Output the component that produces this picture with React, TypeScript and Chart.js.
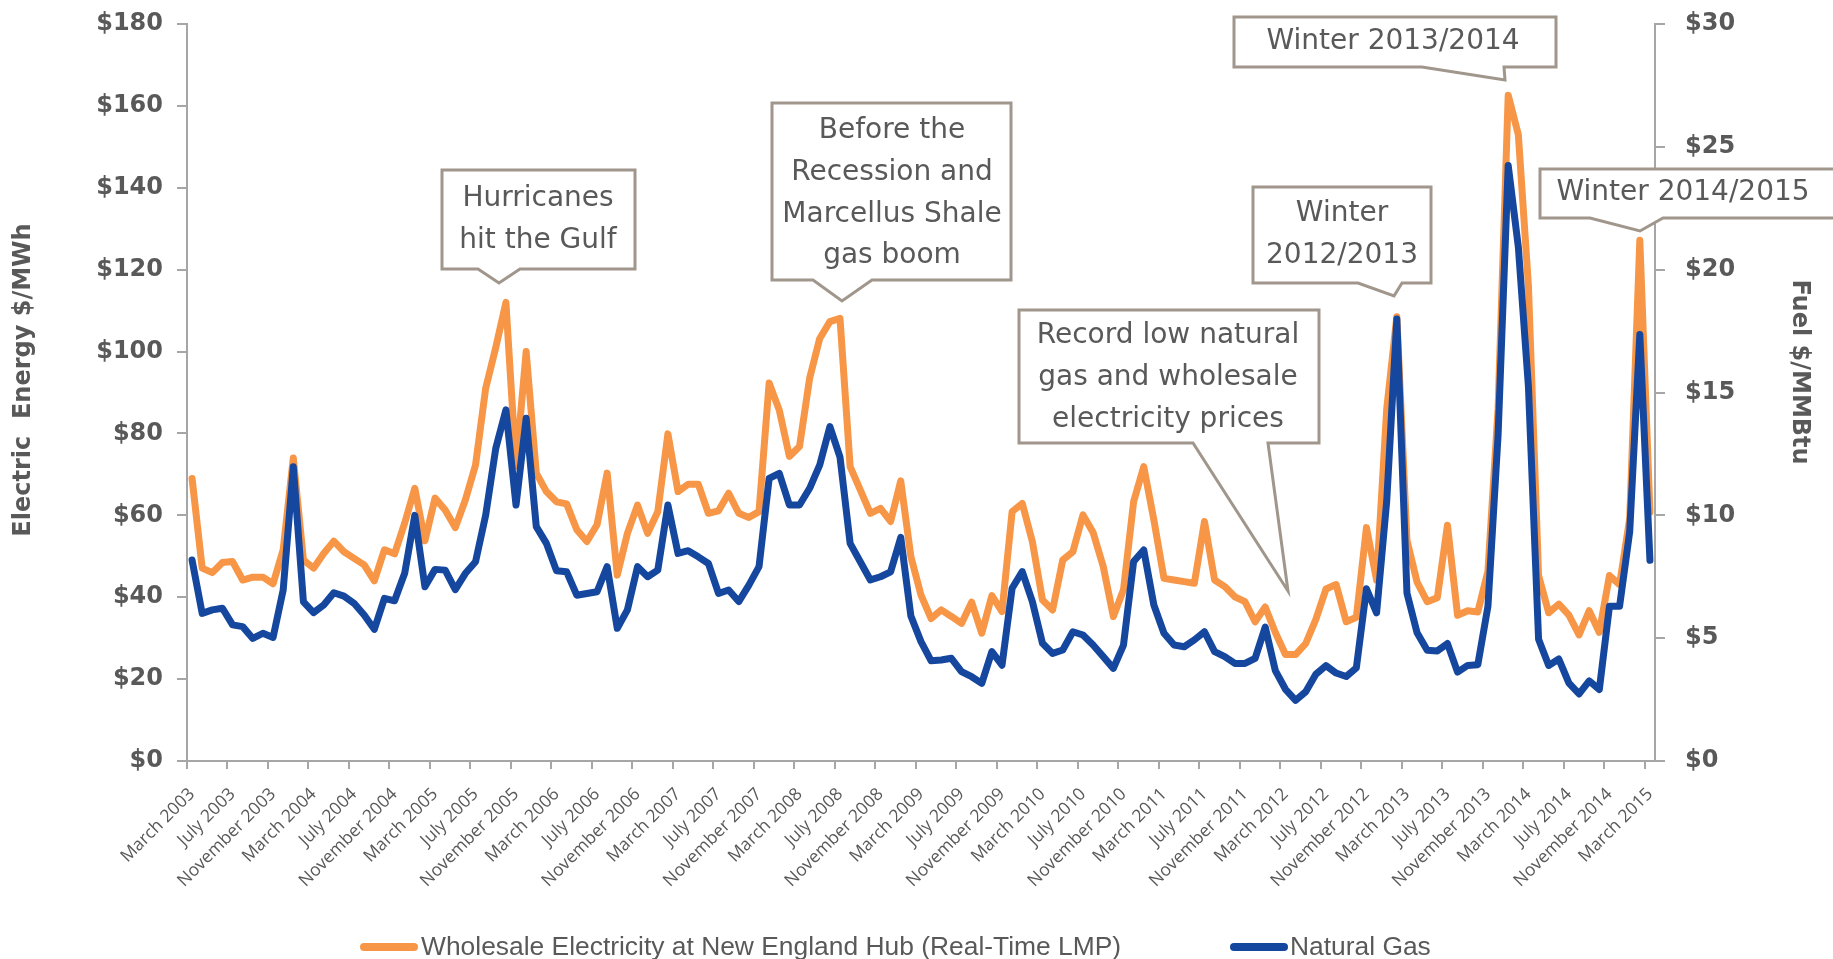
import React, { useEffect, useRef } from 'react';
import { Chart, registerables } from 'chart.js';

Chart.register(...registerables);

// ---------- data ----------
const MONTH_NAMES = ['January', 'February', 'March', 'April', 'May', 'June', 'July', 'August', 'September', 'October', 'November', 'December'];
const START_YEAR = 2003;
const START_MONTH = 2; // March
const MONTH_COUNT = 145; // March 2003 .. March 2015

const categories: string[] = Array.from({ length: MONTH_COUNT }, (_, i) => {
  const m = START_MONTH + i;
  return `${MONTH_NAMES[m % 12]} ${START_YEAR + Math.floor(m / 12)}`;
});

// Wholesale electricity, $/MWh (left axis)
const electricity: number[] = [
  69.0, 47.1, 46.0, 48.5, 48.7, 44.2, 44.9, 44.9, 43.3, 51.6,
  74.0, 49.1, 47.1, 50.7, 53.7, 51.1, 49.5, 47.9, 44.0, 51.6,
  50.6, 58.1, 66.6, 53.8, 64.2, 61.3, 57.0, 63.8, 72.3, 91.0,
  101.0, 112.0, 72.0, 100.0, 70.3, 65.8, 63.3, 62.8, 56.5, 53.6,
  57.7, 70.3, 45.4, 55.6, 62.5, 55.6, 60.9, 79.9, 65.8, 67.6,
  67.6, 60.5, 61.1, 65.4, 60.5, 59.5, 60.9, 92.3, 85.7, 74.4,
  76.8, 93.5, 103.2, 107.3, 108.1, 71.9, 66.2, 60.5, 61.7, 58.5,
  68.4, 49.9, 40.5, 34.8, 36.9, 35.3, 33.6, 38.8, 31.2, 40.4,
  36.5, 60.9, 62.9, 53.6, 39.3, 36.9, 49.1, 51.1, 60.1, 55.8,
  47.5, 35.3, 41.8, 63.3, 71.9, 58.9, 44.6, 44.2, 43.8, 43.4,
  58.5, 44.2, 42.6, 40.1, 38.9, 34.0, 37.6, 31.4, 26.0, 26.0,
  28.7, 34.6, 42.0, 43.1, 34.0, 35.1, 57.0, 44.2, 86.0, 108.5,
  53.9, 43.7, 38.9, 39.9, 57.6, 35.6, 36.7, 36.4, 46.4, 86.0,
  162.6, 153.0, 116.0, 45.3, 36.2, 38.3, 35.6, 30.8, 36.7, 31.4,
  45.3, 43.1, 59.2, 127.2, 60.8,
];

// Natural gas, $/MMBtu (right axis)
const naturalGas: number[] = [
  8.18, 6.01, 6.15, 6.22, 5.54, 5.47, 4.99, 5.20, 5.03, 6.96,
  11.98, 6.48, 6.04, 6.35, 6.85, 6.71, 6.42, 5.94, 5.36, 6.62,
  6.52, 7.64, 10.0, 7.09, 7.80, 7.77, 6.98, 7.64, 8.11, 10.0,
  12.73, 14.29, 10.42, 13.95, 9.54, 8.86, 7.74, 7.70, 6.75, 6.82,
  6.89, 7.91, 5.40, 6.15, 7.91, 7.50, 7.77, 10.42, 8.45, 8.56,
  8.31, 8.04, 6.82, 6.96, 6.49, 7.16, 7.91, 11.50, 11.71, 10.42,
  10.42, 11.10, 12.05, 13.61, 12.37, 8.86, 8.11, 7.37, 7.50, 7.70,
  9.10, 5.90, 4.86, 4.08, 4.11, 4.18, 3.64, 3.43, 3.16, 4.45,
  3.90, 7.03, 7.71, 6.49, 4.79, 4.38, 4.52, 5.26, 5.13, 4.72,
  4.25, 3.77, 4.72, 8.12, 8.59, 6.35, 5.20, 4.72, 4.65, 4.93,
  5.26, 4.45, 4.25, 3.97, 3.97, 4.18, 5.45, 3.68, 2.92, 2.47,
  2.82, 3.53, 3.88, 3.58, 3.44, 3.79, 7.01, 6.03, 10.58, 17.99,
  6.83, 5.22, 4.51, 4.48, 4.78, 3.62, 3.89, 3.92, 6.30, 13.26,
  24.24, 20.93, 15.22, 4.96, 3.89, 4.15, 3.17, 2.73, 3.26, 2.91,
  6.30, 6.30, 9.33, 17.36, 8.17,
];

const LEFT_MAX = 180;
const LEFT_STEP = 20;
const RIGHT_MAX = 30;
const RIGHT_STEP = 5;
const LABEL_EVERY = 4;

const SERIES_NAMES = ['Wholesale Electricity at New England Hub (Real-Time LMP)', 'Natural Gas'];
const LEFT_TITLE = 'Electric  Energy $/MWh';
const RIGHT_TITLE = 'Fuel $/MMBtu';

// ---------- styles ----------
const ORANGE = '#F79646';
const BLUE = '#15479E';
const AXIS = '#A6A6A6';
const TEXT = '#595959';
const BOX_BORDER = '#A0968B';

const W = 1833;
const H = 959;
const PLOT = { left: 187, top: 24, right: 1655, bottom: 761 };

type Callout = {
  lines: string[];
  box: [number, number, number, number];
  tail: [number, number, number, number]; // baseLeft, baseRight, tipX, tipY
  cx: number;
  y0: number;
};

const CALLOUTS: Callout[] = [
  { lines: ['Hurricanes', 'hit the Gulf'], box: [442, 170, 635, 269], tail: [478, 520, 499, 283], cx: 538, y0: 199 },
  { lines: ['Before the', 'Recession and', 'Marcellus Shale', 'gas boom'], box: [772, 103, 1011, 280], tail: [813, 872, 842, 301], cx: 892, y0: 131 },
  { lines: ['Record low natural', 'gas and wholesale', 'electricity prices'], box: [1019, 310, 1319, 443], tail: [1193, 1268, 1288, 591], cx: 1168, y0: 336 },
  { lines: ['Winter', '2012/2013'], box: [1253, 187, 1431, 283], tail: [1358, 1402, 1394, 296], cx: 1342, y0: 214 },
  { lines: ['Winter 2013/2014'], box: [1234, 17, 1556, 67], tail: [1422, 1504, 1505, 80], cx: 1393, y0: 42 },
  { lines: ['Winter 2014/2015'], box: [1540, 169, 1850, 218], tail: [1590, 1663, 1640, 231], cx: 1683, y0: 193 },
];
const LINE_H = 41.7;

const overlayPlugin = {
  id: 'overlay',
  afterDraw(chart: any) {
    const ctx: CanvasRenderingContext2D = chart.ctx;
    ctx.save();

    // axis titles
    ctx.fillStyle = TEXT;
    ctx.font = 'bold 24px "DejaVu Sans"';
    ctx.textAlign = 'center';
    ctx.textBaseline = 'middle';
    ctx.save();
    ctx.translate(24, 380);
    ctx.rotate(-Math.PI / 2);
    ctx.fillText(LEFT_TITLE, 0, 0);
    ctx.restore();
    ctx.save();
    ctx.translate(1799, 372);
    ctx.rotate(Math.PI / 2);
    ctx.fillText(RIGHT_TITLE, 0, 0);
    ctx.restore();

    // callouts
    for (const c of CALLOUTS) {
      const [x1, y1, x2, y2] = c.box;
      const [bl, br, tx, ty] = c.tail;
      ctx.beginPath();
      ctx.moveTo(x1, y1);
      ctx.lineTo(x2, y1);
      ctx.lineTo(x2, y2);
      ctx.lineTo(br, y2);
      ctx.lineTo(tx, ty);
      ctx.lineTo(bl, y2);
      ctx.lineTo(x1, y2);
      ctx.closePath();
      ctx.fillStyle = '#FFFFFF';
      ctx.fill();
      ctx.lineWidth = 3;
      ctx.lineJoin = 'miter';
      ctx.strokeStyle = BOX_BORDER;
      ctx.stroke();
      ctx.fillStyle = TEXT;
      ctx.font = '28px "DejaVu Sans"';
      ctx.textAlign = 'center';
      ctx.textBaseline = 'middle';
      c.lines.forEach((t, k) => ctx.fillText(t, c.cx, c.y0 + k * LINE_H));
    }

    // legend
    ctx.lineCap = 'round';
    ctx.lineWidth = 8;
    ctx.strokeStyle = ORANGE;
    ctx.beginPath();
    ctx.moveTo(364, 947);
    ctx.lineTo(414, 947);
    ctx.stroke();
    ctx.strokeStyle = BLUE;
    ctx.beginPath();
    ctx.moveTo(1234, 947);
    ctx.lineTo(1284, 947);
    ctx.stroke();
    ctx.fillStyle = TEXT;
    ctx.font = '26.4px "Liberation Sans"';
    ctx.textAlign = 'left';
    ctx.textBaseline = 'alphabetic';
    ctx.fillText(SERIES_NAMES[0], 421, 955);
    ctx.fillText(SERIES_NAMES[1], 1290, 955);

    ctx.restore();
  },
};

const zeroVerticalPadding = (s: any) => {
  s.paddingTop = 0;
  s.paddingBottom = 0;
};

export default function App() {
  const ref = useRef<HTMLCanvasElement | null>(null);

  useEffect(() => {
    if (!ref.current) return;
    const tickFont = { family: '"DejaVu Sans"', weight: 'bold' as const, size: 24 };
    const chart = new Chart(ref.current, {
      type: 'line',
      data: {
        labels: categories,
        datasets: [
          {
            label: SERIES_NAMES[0],
            data: electricity,
            borderColor: ORANGE,
            backgroundColor: ORANGE,
            borderWidth: 7,
            pointRadius: 0,
            tension: 0,
            borderJoinStyle: 'round',
            borderCapStyle: 'round',
            yAxisID: 'y',
            order: 1,
          },
          {
            label: SERIES_NAMES[1],
            data: naturalGas,
            borderColor: BLUE,
            backgroundColor: BLUE,
            borderWidth: 7,
            pointRadius: 0,
            tension: 0,
            borderJoinStyle: 'round',
            borderCapStyle: 'round',
            yAxisID: 'y1',
            order: 0,
          },
        ],
      },
      options: {
        animation: false,
        responsive: true,
        maintainAspectRatio: false,
        layout: { padding: { top: PLOT.top, left: 0, right: 0, bottom: 0 } },
        plugins: { legend: { display: false }, tooltip: { enabled: false } },
        scales: {
          x: {
            type: 'category',
            offset: true,
            border: { display: true, color: AXIS, width: 2 },
            grid: {
              display: true,
              offset: true,
              drawOnChartArea: false,
              drawTicks: true,
              tickLength: 8,
              lineWidth: 2,
              color: (c: any) => (c.index % LABEL_EVERY === 0 && c.index < MONTH_COUNT ? AXIS : 'rgba(0,0,0,0)'),
            },
            ticks: {
              autoSkip: false,
              minRotation: 45,
              maxRotation: 45,
              padding: 15,
              color: TEXT,
              font: { family: '"Open Sans"', size: 17.5 },
              callback: (_v: any, i: number) => (i % LABEL_EVERY === 0 ? categories[i] : ''),
            },
            afterFit: (s: any) => {
              s.height = H - PLOT.bottom;
              s.paddingLeft = 0;
              s.paddingRight = 0;
            },
          },
          y: {
            position: 'left',
            min: 0,
            max: LEFT_MAX,
            border: { display: true, color: AXIS, width: 2 },
            grid: { drawOnChartArea: false, drawTicks: true, tickLength: 10, lineWidth: 2, color: AXIS },
            ticks: { stepSize: LEFT_STEP, padding: 14, color: TEXT, font: tickFont, callback: (v: any) => '$' + v },
            afterFit: (s: any) => {
              s.width = PLOT.left;
              zeroVerticalPadding(s);
            },
          },
          y1: {
            position: 'right',
            min: 0,
            max: RIGHT_MAX,
            border: { display: true, color: AXIS, width: 2 },
            grid: { drawOnChartArea: false, drawTicks: true, tickLength: 10, lineWidth: 2, color: AXIS },
            ticks: { stepSize: RIGHT_STEP, padding: 20, color: TEXT, font: tickFont, callback: (v: any) => '$' + v },
            afterFit: (s: any) => {
              s.width = W - PLOT.right;
              zeroVerticalPadding(s);
            },
          },
        },
      },
      plugins: [overlayPlugin],
    } as any);
    return () => chart.destroy();
  }, []);

  return (
    <div style={{ position: 'fixed', left: 0, top: 0, width: W, height: H, background: '#FFFFFF' }}>
      <canvas ref={ref} />
    </div>
  );
}
